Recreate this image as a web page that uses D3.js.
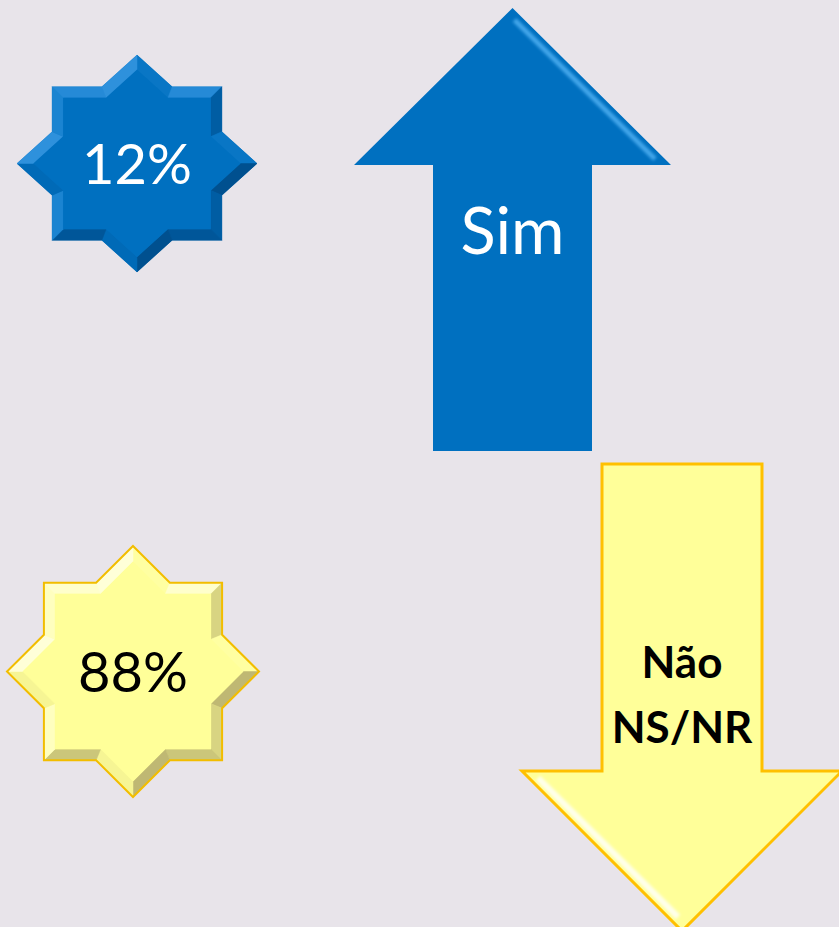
<!DOCTYPE html>
<html>
<head>
<meta charset="utf-8">
<script src="https://cdn.jsdelivr.net/npm/d3@7"></script>
<style>
    html, body { margin: 0; padding: 0; background: #e8e4ea; }
    svg { display: block; }
</style>
</head>
<body>
<script>
var categories = ['Sim', 'Não NS/NR'],
    shares = [12, 88],
    arrowLabels = [['Sim'], ['Não', 'NS/NR']],
    fills = ['#0070c0', '#ffff99'],
    edges = ['none', '#f2bd00'],
    textColors = ['#ffffff', '#000000'];

(function () {
    var width = 839,
        height = 927,
        svg, stars, arrows;

    svg = d3.select('body').append('svg')
        .attr('width', width)
        .attr('height', height);

    svg.append('defs').append('filter')
        .attr('id', 'soft')
        .attr('x', '-20%').attr('y', '-20%')
        .attr('width', '140%').attr('height', '140%')
        .append('feGaussianBlur')
        .attr('stdDeviation', 1.8);

    svg.append('rect')
        .attr('width', width)
        .attr('height', height)
        .attr('fill', '#e8e4ea');

    // layout of the two groups (one per category)
    var starPos = [
            {cx: 137, cy: 163.5, rx: 120, ry: 108.5},
            {cx: 133, cy: 671.5, rx: 126, ry: 125.5}
        ],
        arrowPos = [
            {cx: 512.5, base: 451, headBase: 165, tip: 8, half: 79.5, headHalf: 158.5},
            {cx: 682, base: 464, headBase: 771, tip: 931, half: 80, headHalf: 160}
        ];

    // 8-point star = two overlapping squares
    function starPoints(s) {
        var pts = [], inner = Math.SQRT1_2 / Math.cos(Math.PI / 8), i, a, r;
        for (i = 0; i < 16; i++) {
            a = i * Math.PI / 8;
            r = i % 2 ? inner : 1;
            pts.push([s.cx + Math.sin(a) * s.rx * r, s.cy - Math.cos(a) * s.ry * r]);
        }
        return pts;
    }

    // shift every edge inward by d and intersect neighbouring lines
    function inset(pts, d) {
        var n = pts.length, lines = [], out = [], i;
        for (i = 0; i < n; i++) {
            var p = pts[i], q = pts[(i + 1) % n],
                dx = q[0] - p[0], dy = q[1] - p[1],
                len = Math.sqrt(dx * dx + dy * dy),
                nx = -dy / len, ny = dx / len; // inward for clockwise order
            lines.push({p: [p[0] + nx * d, p[1] + ny * d], v: [dx, dy], n: [-nx, -ny]});
        }
        for (i = 0; i < n; i++) {
            var l1 = lines[(i - 1 + n) % n], l2 = lines[i],
                den = l1.v[0] * l2.v[1] - l1.v[1] * l2.v[0],
                t = ((l2.p[0] - l1.p[0]) * l2.v[1] - (l2.p[1] - l1.p[1]) * l2.v[0]) / den;
            out.push([l1.p[0] + l1.v[0] * t, l1.p[1] + l1.v[1] * t]);
        }
        return {pts: out, lines: lines};
    }

    var line = d3.line().curve(d3.curveLinearClosed);

    // STARS with bevelled facets
    stars = svg.selectAll('g.star').data(shares).enter().append('g')
        .attr('class', 'star');

    stars.each(function (d, k) {
        var g = d3.select(this),
            outer = starPoints(starPos[k]),
            inn = inset(outer, 11),
            base = d3.color(fills[k]),
            lightC = k ? '#ffffee' : '#3d9ce6',
            darkC = k ? '#a9a066' : '#00457f',
            n = outer.length, i;

        g.append('path')
            .attr('d', line(outer))
            .attr('fill', fills[k]);

        for (i = 0; i < n; i++) {
            var nrm = inn.lines[i].n,
                lum = (-nrm[0] * 0.6 - nrm[1] * 0.8),
                c = lum >= 0 ? d3.interpolateRgb(base, lightC)(lum * 0.75)
                             : d3.interpolateRgb(base, darkC)(-lum * 0.75);
            g.append('path')
                .attr('d', line([outer[i], outer[(i + 1) % n], inn.pts[(i + 1) % n], inn.pts[i]]))
                .attr('fill', c)
                .attr('stroke', c)
                .attr('stroke-width', 0.5);
        }

        g.append('path')
            .attr('d', line(inn.pts))
            .attr('fill', fills[k]);

        if (edges[k] !== 'none') {
            g.append('path')
                .attr('d', line(outer))
                .attr('fill', 'none')
                .attr('stroke', edges[k])
                .attr('stroke-width', 2);
        }

        g.append('text')
            .attr('x', starPos[k].cx)
            .attr('y', starPos[k].cy + 20)
            .attr('text-anchor', 'middle')
            .attr('font-family', 'Lato, "Open Sans", sans-serif')
            .attr('font-size', 56)
            .attr('fill', textColors[k])
            .text(d + '%');
    });

    // ARROWS
    arrows = svg.selectAll('g.arrow').data(categories).enter().append('g')
        .attr('class', 'arrow');

    arrows.each(function (d, k) {
        var g = d3.select(this), a = arrowPos[k],
            pts = [
                [a.cx - a.half, a.base],
                [a.cx - a.half, a.headBase],
                [a.cx - a.headHalf, a.headBase],
                [a.cx, a.tip],
                [a.cx + a.headHalf, a.headBase],
                [a.cx + a.half, a.headBase],
                [a.cx + a.half, a.base]
            ];

        g.append('path')
            .attr('d', line(pts))
            .attr('fill', fills[k])
            .attr('stroke', edges[k] === 'none' ? null : '#ffc000')
            .attr('stroke-width', 3);

        // soft highlight just inside one edge of the head
        if (k === 0) {
            g.append('path')
                .attr('d', d3.line()([[a.cx + 2, a.tip + 12], [a.cx + a.headHalf - 16, a.headBase - 6]]))
                .attr('stroke', '#5ab8f8')
                .attr('stroke-width', 5)
                .attr('stroke-opacity', 0.75)
                .attr('filter', 'url(#soft)')
                .attr('fill', 'none');
        } else {
            g.append('path')
                .attr('d', d3.line()([[a.cx - a.headHalf + 16, a.headBase + 7], [a.cx - 4, a.tip - 14]]))
                .attr('stroke', '#ffffff')
                .attr('stroke-width', 6)
                .attr('stroke-opacity', 0.8)
                .attr('filter', 'url(#soft)')
                .attr('fill', 'none');
        }

        var lbl = arrowLabels[k],
            y0 = k ? 678 : 254,
            step = 65;

        g.selectAll('text').data(lbl).enter().append('text')
            .attr('x', a.cx)
            .attr('y', function (t, i) { return y0 + i * step; })
            .attr('text-anchor', 'middle')
            .attr('font-family', 'Lato, "Open Sans", sans-serif')
            .attr('font-weight', k ? 'bold' : 'normal')
            .attr('font-size', k ? 44 : 65)
            .attr('fill', textColors[k])
            .text(function (t) { return t; });
    });
}());
</script>
</body>
</html>
